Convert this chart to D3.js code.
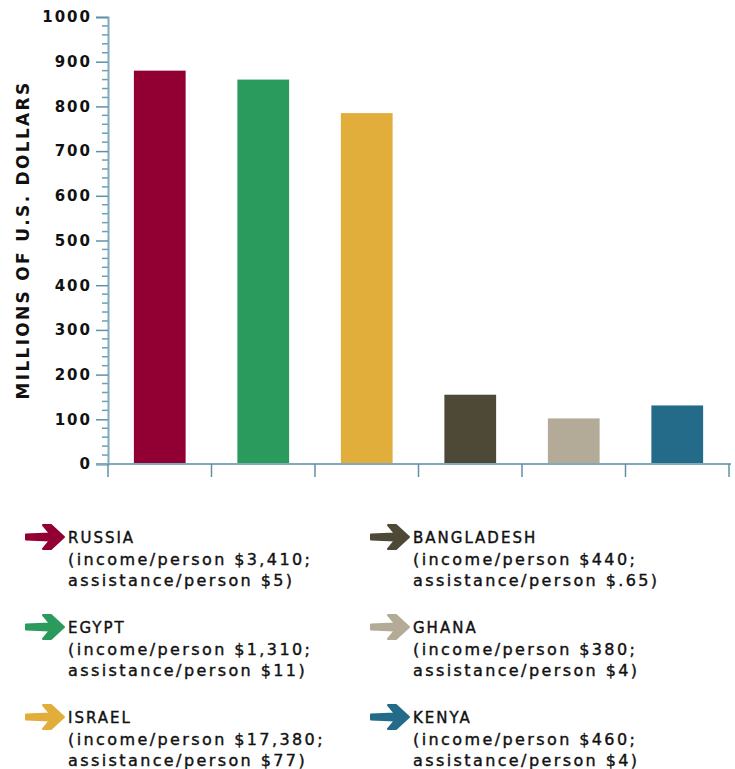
<!DOCTYPE html>
<html>
<head>
<meta charset="utf-8">
<script src="https://cdn.jsdelivr.net/npm/d3@7"></script>
<style>
  body { margin: 0; background: #fff; }
  text { font-family: "DejaVu Sans", sans-serif; fill: #111; }
</style>
</head>
<body>
<div class="svgtarget"></div>
<script>
// data
var countries = ["RUSSIA", "EGYPT", "ISRAEL", "BANGLADESH", "GHANA", "KENYA"];
var assistance = [880, 860, 785, 155, 102, 131];
var incomeLines = ["(income/person $3,410;", "(income/person $1,310;", "(income/person $17,380;",
                   "(income/person $440;", "(income/person $380;", "(income/person $460;"];
var assistLines = ["assistance/person $5)", "assistance/person $11)", "assistance/person $77)",
                   "assistance/person $.65)", "assistance/person $4)", "assistance/person $4)"];
var colors = ["#920033", "#2a9b5c", "#e2ae3b", "#4e4937", "#b3ab98", "#236b88"];
var yTicks = [0, 100, 200, 300, 400, 500, 600, 700, 800, 900, 1000];

var W = 735, H = 769;
var svg = d3.select(".svgtarget").append("svg")
    .attr("width", W).attr("height", H);

var x = d3.scaleBand().domain(countries).range([108, 729]).paddingInner(0.5).paddingOuter(0.25);
var y = d3.scaleLinear().domain([0, 1000]).range([464, 17]);

// minor ticks every 20
var minor = d3.range(0, 1001, 20).filter(function(d) { return d % 100 != 0; });
svg.append("g").selectAll("line").data(minor).enter().append("line")
    .attr("x1", 102).attr("x2", 108)
    .attr("y1", d => y(d)).attr("y2", d => y(d))
    .attr("stroke", "#6f9db3").attr("stroke-width", 1.5);

// bars
svg.append("g").selectAll("rect").data(assistance).enter().append("rect")
    .attr("x", (d, i) => x(countries[i]))
    .attr("width", x.bandwidth())
    .attr("y", d => y(d))
    .attr("height", d => y(0) - y(d))
    .attr("fill", (d, i) => colors[i]);

// y axis
var yAxis = svg.append("g").attr("transform", "translate(108,0)")
    .call(d3.axisLeft(y).tickValues(yTicks).tickSize(12).tickPadding(4).tickFormat(d3.format("d")));
yAxis.select(".domain").attr("stroke", "#7fa9bd").attr("stroke-width", 2);
yAxis.selectAll(".tick line").attr("stroke", "#5f90a8").attr("stroke-width", 1.5);
yAxis.selectAll(".tick text")
    .style("font-family", "DejaVu Sans, sans-serif")
    .style("font-size", "15px").style("font-weight", "bold")
    .style("letter-spacing", "2px").attr("fill", "#111");

// x axis line with band separators
var bounds = d3.range(0, countries.length + 1).map(i => 108 + i * x.step());
svg.append("line").attr("x1", 96).attr("x2", 731).attr("y1", 464).attr("y2", 464)
    .attr("stroke", "#7fa9bd").attr("stroke-width", 2);
svg.append("g").selectAll("line").data(bounds).enter().append("line")
    .attr("x1", d => d).attr("x2", d => d).attr("y1", 464).attr("y2", 477)
    .attr("stroke", "#5f90a8").attr("stroke-width", 1.5);

// y axis title
svg.append("text")
    .attr("transform", "translate(29,240) rotate(-90)")
    .attr("text-anchor", "middle")
    .style("font-size", "17px").style("font-weight", "bold").style("letter-spacing", "2.3px")
    .text("MILLIONS OF U.S. DOLLARS");

// legend
var arrowPath = "M0,-2.5 L24,-3.5 L17,-12 L25,-12 L38,0 L25,12 L17,12 L24,3.5 L0,2.5 Z";
var leg = svg.append("g").selectAll("g").data(countries).enter().append("g")
    .attr("transform", (d, i) => "translate(" + (i < 3 ? 68 : 413) + "," + (543 + (i % 3) * 90) + ")");
leg.append("path")
    .attr("d", arrowPath)
    .attr("transform", "translate(-42,-6)")
    .attr("fill", (d, i) => colors[i])
    .attr("stroke", (d, i) => colors[i]).attr("stroke-width", 2).attr("stroke-linejoin", "round");
leg.append("text").style("font-size", "15px").style("letter-spacing", "2px")
    .attr("stroke", "#111").attr("stroke-width", 0.4)
    .text(d => d);
leg.append("text").attr("y", 21.5).style("font-size", "16px").style("letter-spacing", "2.4px")
    .attr("stroke", "#111").attr("stroke-width", 0.4)
    .text((d, i) => incomeLines[i]);
leg.append("text").attr("y", 42.5).style("font-size", "16px").style("letter-spacing", "2.4px")
    .attr("stroke", "#111").attr("stroke-width", 0.4)
    .text((d, i) => assistLines[i]);
</script>
</body>
</html>
